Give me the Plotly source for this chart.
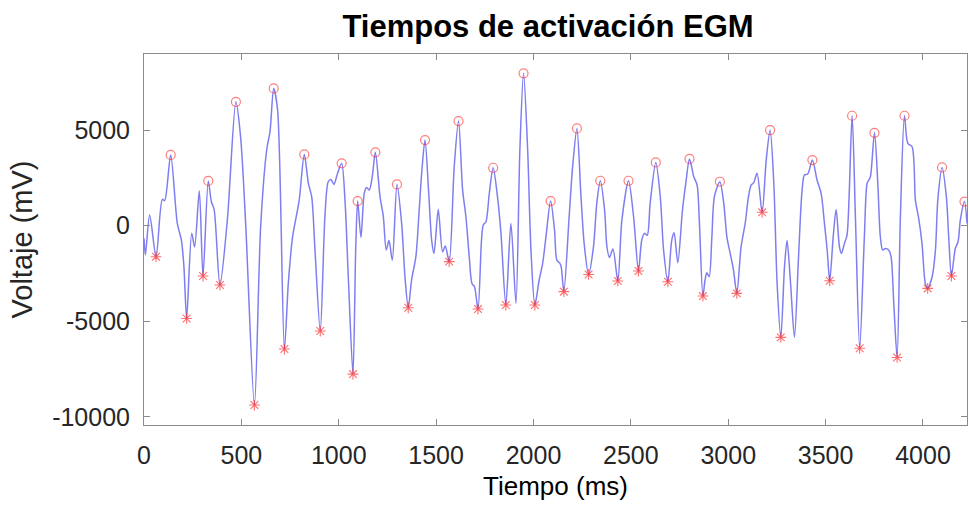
import plotly.graph_objects as go

# EGM signal samples (time in ms, voltage in mV)
tiempo_ms = [
    0, 7, 29, 62, 94, 106, 137, 171, 192, 205, 219, 245, 260, 284, 303, 330, 346, 360,
    390, 428, 472, 496, 522, 567, 599, 630, 647, 666, 686, 721, 741, 763, 780, 797, 823,
    844, 861, 878, 905, 929, 946, 960, 975, 994, 1015, 1032, 1049, 1073, 1087, 1097,
    1114, 1131, 1143, 1157, 1172, 1188, 1212, 1229, 1244, 1258, 1275, 1299, 1323, 1340,
    1357, 1374, 1396, 1413, 1427, 1443, 1461, 1477, 1489, 1511, 1533, 1547, 1567, 1593,
    1615, 1636, 1653, 1670, 1684, 1697, 1715, 1733, 1742, 1756, 1773, 1793, 1815, 1833,
    1858, 1884, 1910, 1930, 1949, 1970, 1987, 2007, 2029, 2047, 2064, 2088, 2108, 2120,
    2134, 2142, 2156, 2183, 2201, 2223, 2243, 2260, 2283, 2308, 2325, 2343, 2365, 2377,
    2390, 2408, 2433, 2454, 2488, 2514, 2539, 2556, 2570, 2584, 2599, 2628, 2651, 2668,
    2690, 2710, 2722, 2741, 2765, 2782, 2801, 2823, 2840, 2852, 2870, 2881, 2890, 2902,
    2916, 2929, 2957, 2977, 2993, 3010, 3027, 3044, 3066, 3087, 3104, 3118, 3131, 3148,
    3174, 3195, 3215, 3234, 3251, 3270, 3289, 3302, 3320, 3340, 3361, 3378, 3391, 3408,
    3432, 3456, 3477, 3494, 3508, 3521, 3539, 3554, 3571, 3581, 3597, 3610, 3636, 3653,
    3675, 3699, 3713, 3722, 3730, 3751, 3768, 3781, 3793, 3807, 3824, 3836, 3850, 3867,
    3884, 3905, 3922, 3944, 3961, 3978, 3995, 4012, 4024, 4047, 4064, 4076, 4098, 4120,
    4132, 4146, 4166, 4180, 4192, 4213, 4226,
]
voltaje_mv = [
    -660, -1530, 560, -1620, 1380, 1310, 3700, 120, -750, -2140, -4850, -400, -1100, 1830,
    -2630, 2340, 1250, 850, -3100, 300, 6480, 4650, 120, -9380, -50, 3960, 4920, 7180,
    6050, -6450, -3020, -580, 380, 1340, 3730, 2210, 1520, -1270, -5510, 470, 2300, 2420,
    2160, 2740, 3260, 1340, -2670, -7760, -1270, 1290, -610, 1690, 2000, 1870, 2560, 3840,
    1520, 470, -1270, -780, -1800, 2160, 120, -2670, -4290, -2840, -1620, 820, 2910, 4480,
    1870, -750, -1450, 850, -1360, -1060, -1880, 3090, 5470, 1870, 470, -1620, -3020,
    -3190, -4360, -750, 40, 210, 1690, 3030, 1520, -400, -4150, 120, -4060, 3960, 7970,
    3960, -1270, -4150, -2840, -1970, -580, 1290, -230, -1800, -1940, -2140, -3450, 470,
    3090, 5090, 1690, -920, -2550, -1100, 1170, 2350, 820, -1100, -1660, -1220, -2890,
    300, 2350, 470, -2370, -750, -400, -500, 1170, 3310, 1520, -1270, -2930, -750, -370,
    -1940, 820, 2210, 3490, 2560, 2130, 120, -3680, -2840, -2460, -2670, -580, 1520, 2300,
    1170, -580, -1450, -2320, -3540, -1100, 120, 1520, 2130, 2250, 2740, 700, 3430, 5000,
    2210, -3020, -5840, -2140, -780, -3020, -5840, -1620, 1690, 2650, 2700, 3430, 2390,
    1690, 120, -1270, -2880, -580, 850, -1100, -1450, -920, -490, 5750, 470, -6410, -580,
    2210, 2390, 2560, 4860, 2210, -580, -1270, -1190, -1270, -1620, -4060, -6890, 470,
    5750, 4310, 4130, 1340, 380, -920, -3020, -3280, -2670, -1270, 1340, 3050, 1520, -580,
    -2630, -1190, -840, 300, 1260, 120,
]

# Detected activation times: local maxima (circles) and minima (asterisks)
picos_t = [
    137, 330, 472, 666, 823, 1015, 1097, 1188, 1299, 1443, 1615, 1793, 1949, 2088, 2223,
    2343, 2488, 2628, 2801, 2957, 3215, 3432, 3636, 3751, 3905, 4098, 4213,
]
valles_t = [
    62, 219, 303, 390, 567, 721, 905, 1073, 1357, 1567, 1715, 1858, 2007, 2156, 2283,
    2433, 2539, 2690, 2870, 3044, 3174, 3270, 3521, 3675, 3867, 4024, 4146,
]

senal = dict(zip(tiempo_ms, voltaje_mv))
picos_v = [senal[t] for t in picos_t]
valles_v = [senal[t] for t in valles_t]

x_ticks = [0, 500, 1000, 1500, 2000, 2500, 3000, 3500, 4000]
y_ticks = [-10000, -5000, 0, 5000]

fig = go.Figure()
fig.add_trace(go.Scatter(
    x=tiempo_ms, y=voltaje_mv, mode="lines",
    line=dict(color="rgba(40,40,230,0.6)", width=1.5, shape="spline", smoothing=0.8),
    showlegend=False, hoverinfo="x+y",
))
fig.add_trace(go.Scatter(
    x=picos_t, y=picos_v, mode="markers",
    marker=dict(symbol="circle-open", size=9, color="rgba(255,40,40,0.6)",
                line=dict(width=1.2)),
    showlegend=False,
))
fig.add_trace(go.Scatter(
    x=valles_t, y=valles_v, mode="markers",
    marker=dict(symbol="asterisk-open", size=9, color="rgba(255,30,30,0.65)",
                line=dict(width=1.1)),
    showlegend=False,
))

font_family = "Liberation Sans, Arial, Helvetica, sans-serif"
axis_common = dict(
    showline=True, linecolor="#8a8a8a", linewidth=1, mirror="ticks",
    ticks="inside", ticklen=6, tickcolor="#8a8a8a", tickwidth=1,
    showgrid=False, zeroline=False,
    tickfont=dict(family=font_family, size=25, color="#262626"),
)

fig.update_layout(
    width=969, height=505,
    margin=dict(l=144, r=2, t=54, b=80),
    paper_bgcolor="white", plot_bgcolor="white",
    title=dict(
        text="<b>Tiempos de activación EGM</b>",
        font=dict(family=font_family, size=31, color="black"),
        x=548 / 969, xref="container", xanchor="center",
        y=1 - 26 / 505, yref="container", yanchor="middle",
    ),
    xaxis=dict(
        range=[0, 4226], tickvals=x_ticks, ticktext=[str(v) for v in x_ticks],
        ticklabelstandoff=8,
        title=dict(text="Tiempo (ms)", font=dict(family=font_family, size=26, color="black"),
                   standoff=8),
        **axis_common,
    ),
    yaxis=dict(
        range=[-10423, 8980], tickvals=y_ticks, ticktext=[str(v) for v in y_ticks],
        ticklabelstandoff=8,
        title=dict(text="Voltaje (mV)", font=dict(family=font_family, size=29, color="#262626"),
                   standoff=10),
        **axis_common,
    ),
)

fig.write_html("out.html")
